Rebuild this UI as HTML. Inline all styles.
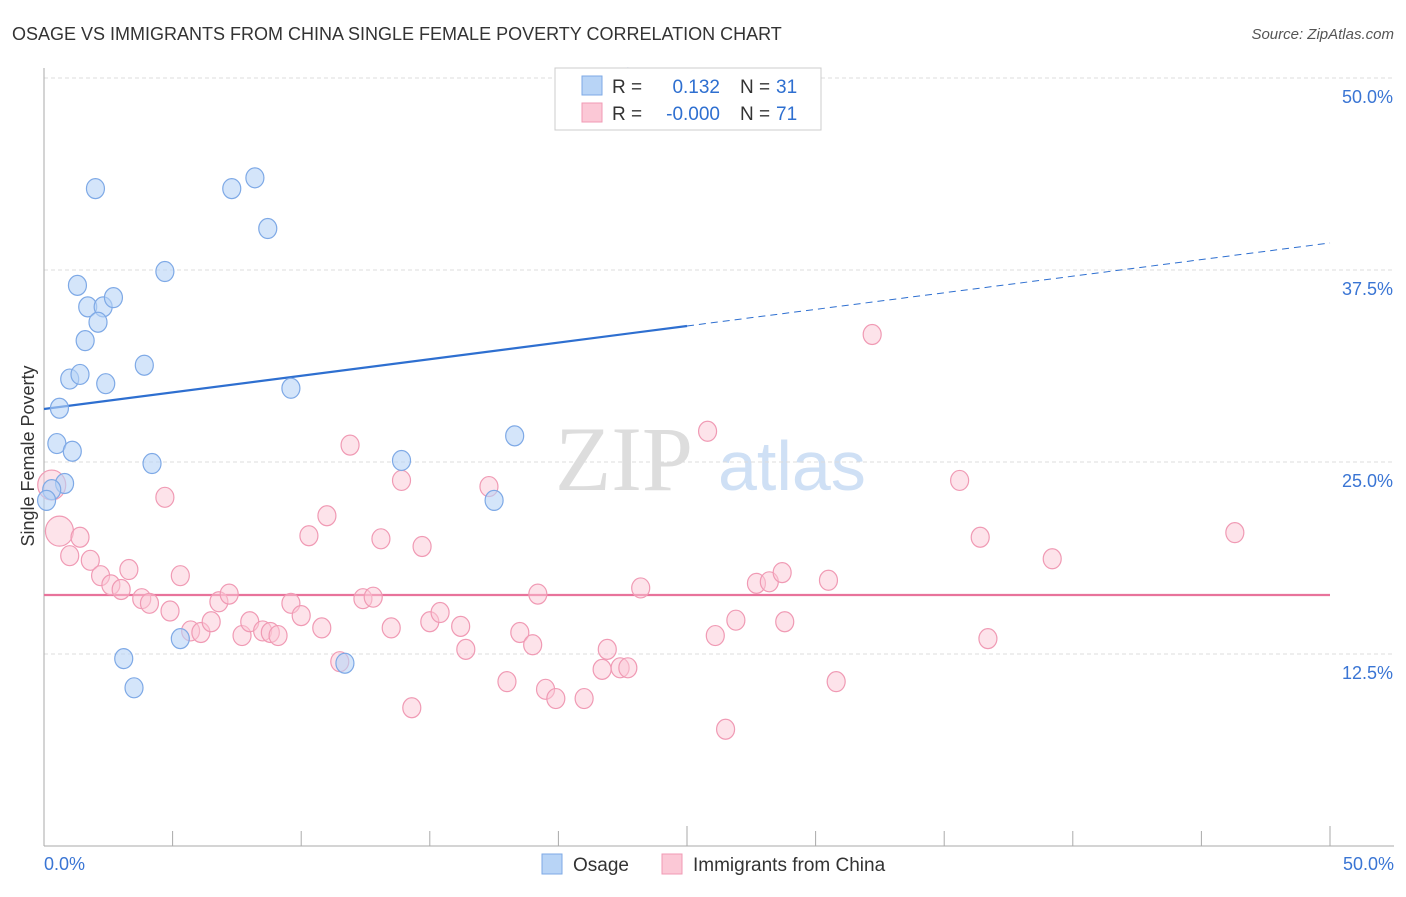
<!DOCTYPE html>
<html><head><meta charset="utf-8"><style>
body{margin:0;background:#fff;font-family:"Liberation Sans",sans-serif}
</style></head><body>
<svg width="1406" height="892" xmlns="http://www.w3.org/2000/svg" font-family="Liberation Sans, sans-serif">
<text x="12" y="40" font-size="18" fill="#333">OSAGE VS IMMIGRANTS FROM CHINA SINGLE FEMALE POVERTY CORRELATION CHART</text>
<text x="1394" y="39" font-size="15" fill="#555" font-style="italic" text-anchor="end">Source: ZipAtlas.com</text>
<g>
<text x="555" y="490" font-size="92" fill="#ddd" font-family="Liberation Serif, serif">ZIP</text>
<text x="718" y="490" font-size="70" fill="#cfe0f5">atlas</text></g>
<g id="grid"></g><g id="axes"></g><g id="trend"></g><g id="pts"></g>
<text transform="translate(34,456) rotate(-90)" font-size="18" fill="#333" text-anchor="middle">Single Female Poverty</text>
<g>
<rect x="555" y="68" width="266" height="62" fill="#fff" stroke="#ccc"/>
<rect x="582" y="76" width="20" height="19" fill="#b8d4f6" stroke="#7ea9e6"/>
<rect x="582" y="103" width="20" height="19" fill="#fbc8d6" stroke="#f09ab4"/>
<text x="612" y="93" font-size="19" fill="#333">R =</text><text x="720" y="93" font-size="19" fill="#2e6fd0" text-anchor="end">0.132</text>
<text x="740" y="93" font-size="19" fill="#333">N =</text><text x="776" y="93" font-size="19" fill="#2e6fd0">31</text>
<text x="612" y="120" font-size="19" fill="#333">R =</text><text x="720" y="120" font-size="19" fill="#2e6fd0" text-anchor="end">-0.000</text>
<text x="740" y="120" font-size="19" fill="#333">N =</text><text x="776" y="120" font-size="19" fill="#2e6fd0">71</text>
</g>
<g>
<rect x="542" y="854" width="20" height="20" fill="#b8d4f6" stroke="#7ea9e6"/>
<text x="573" y="871" font-size="19" fill="#333">Osage</text>
<rect x="662" y="854" width="20" height="20" fill="#fbc8d6" stroke="#f09ab4"/>
<text x="693" y="871" font-size="19" fill="#333">Immigrants from China</text>
</g>
</svg>
<script>
const yTicks=[12.5,25,37.5,50];
const yTickLabels=["12.5%","25.0%","37.5%","50.0%"];
const xTickLabels=["0.0%","50.0%"];
const osageX=[22.7,2.0,7.3,8.2,8.7,4.7,1.3,1.7,2.3,2.7,2.1,1.6,3.9,1.0,1.4,2.4,9.6,0.6,0.5,1.1,4.2,13.9,18.3,0.8,0.3,0.1,17.5,5.3,3.1,3.5,11.7];
const osageY=[50.0,42.8,42.8,43.5,40.2,37.4,36.5,35.1,35.1,35.7,34.1,32.9,31.3,30.4,30.7,30.1,29.8,28.5,26.2,25.7,24.9,25.1,26.7,23.6,23.2,22.5,22.5,13.5,12.2,10.3,11.9];
const chinaX=[0.3,0.6,1.4,1.0,1.8,2.2,2.6,3.0,3.3,3.8,4.1,4.7,4.9,5.3,5.7,6.1,6.5,6.8,7.2,7.7,8.0,8.5,8.8,9.1,9.6,10.0,10.3,10.8,11.0,11.5,11.9,12.4,12.8,13.1,13.5,13.9,14.3,14.7,15.0,15.4,16.2,16.4,17.3,18.0,18.5,19.0,19.2,19.5,19.9,21.0,21.7,21.9,22.4,22.7,23.2,25.8,26.1,26.5,26.9,27.7,28.2,28.7,28.8,30.5,30.8,32.2,35.6,36.4,36.7,39.2,46.3];
const chinaY=[23.5,20.5,20.1,18.9,18.6,17.6,17.0,16.7,18.0,16.1,15.8,22.7,15.3,17.6,14.0,13.9,14.6,15.9,16.4,13.7,14.6,14.0,13.9,13.7,15.8,15.0,20.2,14.2,21.5,12.0,26.1,16.1,16.2,20.0,14.2,23.8,9.0,19.5,14.6,15.2,14.3,12.8,23.4,10.7,13.9,13.1,16.4,10.2,9.6,9.6,11.5,12.8,11.6,11.6,16.8,27.0,13.7,7.6,14.7,17.1,17.2,17.8,14.6,17.3,10.7,33.3,23.8,20.1,13.5,18.7,20.4];
const osageTrend=[28.45,39.26];
const chinaTrend=[16.34,16.34];
const NS="http://www.w3.org/2000/svg";
const X=v=>44+v*25.72, Y=v=>846-v*15.36;
function mk(t,a,p){const e=document.createElementNS(NS,t);for(const k in a)e.setAttribute(k,a[k]);p.appendChild(e);return e;}
const grid=document.getElementById('grid'),axes=document.getElementById('axes'),tr=document.getElementById('trend'),pts=document.getElementById('pts');
yTicks.forEach((t,i)=>{const l=mk('line',{x1:44,x2:1394,y1:Y(t),y2:Y(t),stroke:'#ddd','stroke-dasharray':'4,3'},grid);

const tx=mk('text',{x:1393,y:Y(t)+25,'font-size':18,fill:'#3a75d4','text-anchor':'end'},axes);tx.textContent=yTickLabels[i];
});
let a=mk('line',{x1:44,x2:44,y1:68,y2:846,stroke:'#aaa'},axes);
a=mk('line',{x1:44,x2:1394,y1:846,y2:846,stroke:'#aaa'},axes);
for(let i=0;i<=10;i++){const v=i*5;const t=mk('line',{x1:X(v),x2:X(v),y1:(i==5||i==10)?826:831,y2:846,stroke:'#aaa'},axes);
}
[[0,'start',44],[50,'end',1394]].forEach((d,i)=>{const t=mk('text',{x:d[2],y:870,'font-size':18,fill:'#3a75d4','text-anchor':d[1]},axes);t.textContent=xTickLabels[i];
});
const ym=osageTrend[0]+(osageTrend[1]-osageTrend[0])*0.5;
let l=mk('line',{x1:X(0),y1:Y(osageTrend[0]),x2:X(25),y2:Y(ym),stroke:'#2e6fd0','stroke-width':2.2},tr);
l=mk('line',{x1:X(25),y1:Y(ym),x2:X(50),y2:Y(osageTrend[1]),stroke:'#2e6fd0','stroke-width':1,'stroke-dasharray':'7,5'},tr);
l=mk('line',{x1:X(0),y1:Y(chinaTrend[0]),x2:X(50),y2:Y(chinaTrend[1]),stroke:'#e8739b','stroke-width':2.2},tr);
chinaX.forEach((v,i)=>{const r=i<2?14:9;const c=mk('ellipse',{cx:X(v),cy:Y(chinaY[i]),rx:r,ry:r+1,fill:'rgba(251,200,214,0.5)',stroke:'#f09ab4','stroke-width':1.2},pts);
});
osageX.forEach((v,i)=>{const c=mk('ellipse',{cx:X(v),cy:Y(osageY[i]),rx:9,ry:10,fill:'rgba(184,212,246,0.6)',stroke:'#7ea9e6','stroke-width':1.2},pts);
});
</script>
</body></html>
